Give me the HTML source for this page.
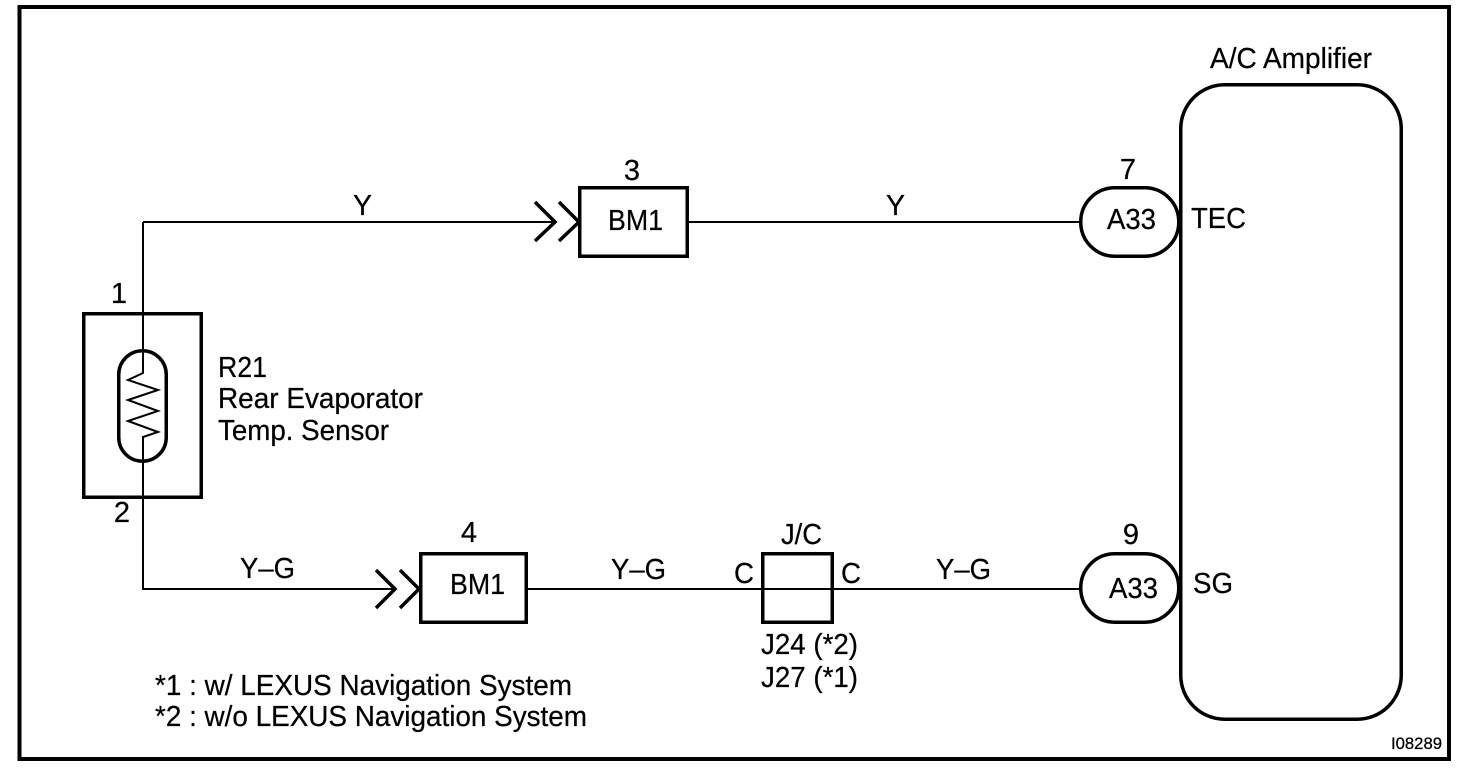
<!DOCTYPE html>
<html>
<head>
<meta charset="utf-8">
<style>
html,body{margin:0;padding:0;background:#fff;width:1472px;height:778px;overflow:hidden}
svg{display:block}
text{font-family:"Liberation Sans",sans-serif;font-size:29px;fill:#000;stroke:#000;stroke-width:.25}
.b{fill:none;stroke:#000;stroke-width:3.5}
.w{fill:none;stroke:#000;stroke-width:2}
.a{fill:none;stroke:#000;stroke-width:3.5}
</style>
</head>
<body>
<svg width="1472" height="778" viewBox="0 0 1472 778" xmlns="http://www.w3.org/2000/svg">
<rect width="1472" height="778" fill="#fff"/>
<rect class="b" x="19.5" y="7" width="1429.5" height="752" style="stroke-width:4"/>

<!-- wires -->
<path class="w" d="M143 222V373L128 380L158 390L128 400L158 411L128 421L158 432L143 437V589H395"/>
<path class="w" d="M143 222H555"/>
<path class="w" d="M689 222H1080"/>
<path class="w" d="M528 589H1080"/>

<!-- chevrons -->
<path class="a" d="M535 202L555 222L535 241"/>
<path class="a" d="M559 202L579 222L559 241"/>
<path class="a" d="M376 570L395 589L376 608"/>
<path class="a" d="M400 570L419 589L400 608"/>

<!-- sensor -->
<rect class="b" x="83.75" y="313.75" width="117.5" height="183.5"/>
<rect class="b" x="118.75" y="350.75" width="47.5" height="110.5" rx="23.75" ry="23.75"/>

<!-- connectors -->
<rect class="b" x="579.75" y="187.75" width="107.5" height="68.5"/>
<rect class="b" x="420.75" y="553.75" width="105.5" height="68.5"/>
<rect class="b" x="762.75" y="553.75" width="69.5" height="68.5"/>
<rect class="b" x="1080.75" y="187.75" width="98" height="68.5" rx="34" ry="34" style="fill:#fff"/>
<rect class="b" x="1080.75" y="553.75" width="98" height="68.5" rx="34" ry="34" style="fill:#fff"/>
<rect class="b" x="1180.75" y="84.75" width="220.5" height="634.5" rx="44" ry="44"/>

<!-- labels -->
<text x="1210" y="68" textLength="162" lengthAdjust="spacingAndGlyphs">A/C Amplifier</text>
<text x="632" y="180" text-anchor="middle">3</text>
<text x="1128" y="179" text-anchor="middle">7</text>
<text x="1131" y="544" text-anchor="middle">9</text>
<text x="469" y="542" text-anchor="middle">4</text>
<text x="119" y="303" text-anchor="middle">1</text>
<text x="122" y="522" text-anchor="middle">2</text>
<text x="353" y="215" textLength="19" lengthAdjust="spacingAndGlyphs">Y</text>
<text x="886" y="215" textLength="19" lengthAdjust="spacingAndGlyphs">Y</text>
<text x="608" y="230" textLength="55" lengthAdjust="spacingAndGlyphs">BM1</text>
<text x="450" y="594" textLength="55" lengthAdjust="spacingAndGlyphs">BM1</text>
<text x="1107" y="229" textLength="49" lengthAdjust="spacingAndGlyphs">A33</text>
<text x="1109" y="598" textLength="49" lengthAdjust="spacingAndGlyphs">A33</text>
<text x="1191" y="228" textLength="55" lengthAdjust="spacingAndGlyphs">TEC</text>
<text x="1193" y="593" textLength="40" lengthAdjust="spacingAndGlyphs">SG</text>
<text x="240" y="578" textLength="55" lengthAdjust="spacingAndGlyphs">Y–G</text>
<text x="611" y="579" textLength="55" lengthAdjust="spacingAndGlyphs">Y–G</text>
<text x="936" y="579" textLength="55" lengthAdjust="spacingAndGlyphs">Y–G</text>
<text x="734" y="583" textLength="20" lengthAdjust="spacingAndGlyphs">C</text>
<text x="841" y="583" textLength="20" lengthAdjust="spacingAndGlyphs">C</text>
<text x="781" y="544" textLength="41" lengthAdjust="spacingAndGlyphs">J/C</text>
<text x="761" y="654" textLength="97" lengthAdjust="spacingAndGlyphs">J24 (*2)</text>
<text x="761" y="687" textLength="97" lengthAdjust="spacingAndGlyphs">J27 (*1)</text>
<text x="218" y="377" textLength="49" lengthAdjust="spacingAndGlyphs">R21</text>
<text x="218" y="408" textLength="205" lengthAdjust="spacingAndGlyphs">Rear Evaporator</text>
<text x="218" y="440" textLength="171" lengthAdjust="spacingAndGlyphs">Temp. Sensor</text>
<text x="155" y="695" textLength="417" lengthAdjust="spacingAndGlyphs">*1 : w/ LEXUS Navigation System</text>
<text x="155" y="726" textLength="432" lengthAdjust="spacingAndGlyphs">*2 : w/o LEXUS Navigation System</text>
<text x="1391" y="749" textLength="51" lengthAdjust="spacingAndGlyphs" style="font-size:16.5px">I08289</text>
</svg>
</body>
</html>
